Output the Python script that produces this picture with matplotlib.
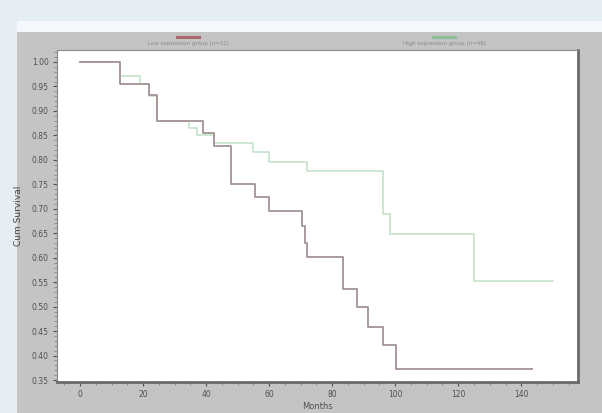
import numpy as np
import matplotlib
matplotlib.use("Agg")
import matplotlib.pyplot as plt
from matplotlib.patches import Rectangle
from matplotlib.lines import Line2D
from matplotlib.ticker import MultipleLocator

# survival steps (months, cumulative survival)
red_t = [0, 12.7, 22, 24.4, 39, 42.5, 48, 55.5, 60, 70.5, 71.3, 72, 83.5, 88, 91.5, 96, 100.3, 143.5]
red_s = [1.00, 0.955, 0.932, 0.879, 0.855, 0.829, 0.750, 0.725, 0.695, 0.665, 0.630, 0.601,
         0.536, 0.499, 0.458, 0.421, 0.372, 0.372]

green_t = [0, 12.7, 19, 22, 24.4, 34.6, 37, 42.5, 55, 60, 72, 96, 98.5, 125, 150]
green_s = [1.00, 0.971, 0.955, 0.930, 0.879, 0.865, 0.850, 0.834, 0.816, 0.796, 0.778,
           0.690, 0.648, 0.553, 0.553]

red_label = "Low expression group (n=52)"
green_label = "High expression group (n=48)"
y_ticks = np.arange(0.35, 1.001, 0.05)
x_ticks = [0, 20, 40, 60, 80, 100, 120, 140]

W, H = 602, 413
fig = plt.figure(figsize=(W / 100, H / 100), dpi=100, facecolor="#e5edf5")

# page bands behind the chart
fig.add_artist(Rectangle((17 / W, 0), 1, 1 - 21 / H, transform=fig.transFigure,
                         facecolor="#f4f7fb", edgecolor="none", zorder=0))
fig.add_artist(Rectangle((17 / W, 0), 1, 1 - 32 / H, transform=fig.transFigure,
                         facecolor="#c4c4c4", edgecolor="none", zorder=0))

ax = fig.add_axes([57 / W, 1 - 382 / H, 521 / W, 332 / H])
ax.set_facecolor("white")

ax.step(green_t, green_s, where="post", color="#bfe0c8", lw=1.1)
ax.step(red_t, red_s, where="post", color="#a39293", lw=1.3)

ax.set_xlim(-7.3, 158)
ax.set_ylim(0.346, 1.0245)
ax.set_yticks(y_ticks)
ax.set_yticklabels(["%.2f" % v for v in y_ticks])
ax.set_xticks(x_ticks)
ax.xaxis.set_minor_locator(MultipleLocator(5))
ax.yaxis.set_minor_locator(MultipleLocator(0.01))
ax.tick_params(labelsize=5.5, colors="#505050", length=3, width=0.8, pad=3)
ax.tick_params(which="minor", length=2, width=0.5, colors="#777777")

for s in ["left", "top"]:
    ax.spines[s].set_color("#8a8a8a")
    ax.spines[s].set_linewidth(0.8)
for s in ["right", "bottom"]:
    ax.spines[s].set_color("#6a6a6a")
    ax.spines[s].set_linewidth(2.0)

ax.set_xlabel("Months", fontsize=6, color="#505050", labelpad=2)
ax.set_ylabel("Cum Survival", fontsize=6.5, color="#444444", labelpad=6)

# legend: short bar above its text
for cx, col, lab in [(188, "#a86a6c", red_label), (444, "#8cc09a", green_label)]:
    fig.add_artist(Line2D([(cx - 11) / W, (cx + 11) / W], [1 - 37 / H, 1 - 37 / H],
                          transform=fig.transFigure, color=col, lw=2.2))
    fig.text(cx / W, 1 - 44 / H, lab, fontsize=4, color="#8a8a8a", ha="center", va="center")

fig.savefig("out.png", dpi=100, facecolor=fig.get_facecolor())
